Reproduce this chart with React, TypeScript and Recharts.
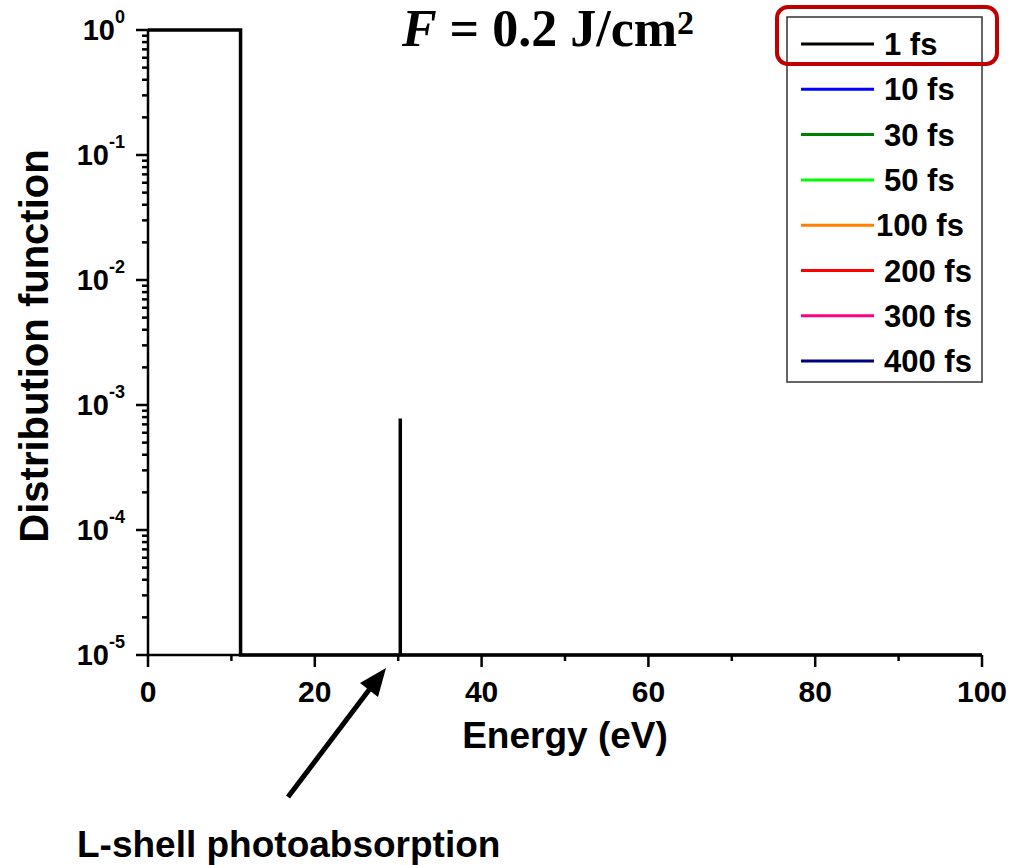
import React from 'react';
import { LineChart, Line, XAxis, YAxis } from 'recharts';

// ---- data ----
const energy1fs = [0, 11.1, 11.1, 30.25, 30.25, 30.25, 100];
const dist1fs = [1, 1, 1e-5, 1e-5, 7.8e-4, 1e-5, 1e-5];

const seriesNames = ['1 fs', '10 fs', '30 fs', '50 fs', '100 fs', '200 fs', '300 fs', '400 fs'];
const seriesColors = ['#000000', '#0000ff', '#008000', '#00ff00', '#ff8000', '#ff0000', '#ff0080', '#000080'];

const xTicks = [0, 10, 20, 30, 40, 50, 60, 70, 80, 90, 100];
const xTickLabels = ['0', '', '20', '', '40', '', '60', '', '80', '', '100'];
const yMajorExponents = [-5, -4, -3, -2, -1, 0];
const yMinorMantissas = [2, 3, 4, 5, 6, 7, 8, 9];

const data = energy1fs.map((x, i) => ({ x, d1: dist1fs[i] }));

const yTicks: number[] = [];
yMajorExponents.forEach((e) => {
  yTicks.push(Math.pow(10, e));
  if (e < 0) yMinorMantissas.forEach((m) => yTicks.push(m * Math.pow(10, e)));
});

const SANS = '"Liberation Sans", Arial, sans-serif';
const SERIF = '"Liberation Serif", "Times New Roman", serif';

const XTick = (props: any) => {
  const { x, y, index } = props;
  const label = xTickLabels[index] ?? '';
  const major = label !== '';
  return (
    <g>
      <line x1={x} y1={y} x2={x} y2={y + (major ? 12 : 6)} stroke="#000" strokeWidth={2.5} />
      {major && (
        <text x={x} y={y + 47} textAnchor="middle" fontFamily={SANS} fontWeight="bold" fontSize={30} fill="#000">
          {label}
        </text>
      )}
    </g>
  );
};

const YTick = (props: any) => {
  const { x, y, payload } = props;
  const v = payload.value as number;
  const lg = Math.log10(v);
  const exp = Math.round(lg);
  const major = Math.abs(lg - exp) < 1e-6;
  return (
    <g>
      <line x1={x} y1={y} x2={x - (major ? 12 : 6)} y2={y} stroke="#000" strokeWidth={2.5} />
      {major && (
        <text x={x - 23} y={y + 10} textAnchor="end" fontFamily={SANS} fontWeight="bold" fontSize={29} fill="#000">
          <tspan>10</tspan>
          <tspan dy={-17} fontSize={18}>{String(exp)}</tspan>
        </text>
      )}
    </g>
  );
};

const LegendBox = () => (
  <svg width={197} height={367} style={{ display: 'block' }}>
    <rect x={1} y={1} width={195} height={365} fill="#fff" stroke="#333" strokeWidth={1.5} />
    {seriesNames.map((name, i) => {
      const cy = 28 + i * 45.3;
      return (
        <g key={name}>
          <line x1={15} y1={cy} x2={88} y2={cy} stroke={seriesColors[i]} strokeWidth={3} />
          <text x={name === '100 fs' ? 90 : 98} y={cy + 11} fontFamily={SANS} fontWeight="bold" fontSize={31} fill="#000">
            {name}
          </text>
        </g>
      );
    })}
  </svg>
);

export default function App() {
  return (
    <div style={{ position: 'absolute', left: 0, top: 0, width: 1013, height: 865, background: '#fff' }}>
      <LineChart width={1013} height={865} data={data} margin={{ top: 30, right: 31, bottom: 0, left: 0 }}>
        <XAxis
          dataKey="x"
          type="number"
          domain={[0, 100]}
          ticks={xTicks}
          interval={0}
          height={210}
          tickSize={0}
          tickMargin={0}
          tickLine={false}
          axisLine={{ stroke: '#000', strokeWidth: 2.5 }}
          tick={<XTick />}
        />
        <YAxis
          type="number"
          scale="log"
          domain={[1e-5, 1]}
          ticks={yTicks}
          interval={0}
          width={148}
          tickSize={0}
          tickMargin={0}
          tickLine={false}
          axisLine={{ stroke: '#000', strokeWidth: 2.5 }}
          tick={<YTick />}
        />
        <Line
          dataKey="d1"
          name={seriesNames[0]}
          type="linear"
          stroke={seriesColors[0]}
          strokeWidth={3.5}
          dot={false}
          activeDot={false}
          isAnimationActive={false}
        />
      </LineChart>
      <div style={{ position: 'absolute', left: 786, top: 16 }}>
        <LegendBox />
      </div>
      <svg
        width={1013}
        height={865}
        style={{ position: 'absolute', left: 0, top: 0, pointerEvents: 'none' }}
      >
        <text x={548} y={46} textAnchor="middle" fontFamily={SERIF} fontWeight="bold" fontSize={52} fill="#000">
          <tspan fontStyle="italic">F</tspan>
          <tspan> = 0.2 J/cm</tspan>
          <tspan dy={-12} fontSize={34}>2</tspan>
        </text>
        <rect x={777} y={7} width={220} height={57} rx={11} fill="none" stroke="#c00000" strokeWidth={4} />
        <text
          transform="translate(48,346) rotate(-90)"
          textAnchor="middle"
          fontFamily={SANS}
          fontWeight="bold"
          fontSize={40}
          fill="#000"
        >
          Distribution function
        </text>
        <text x={565} y={748} textAnchor="middle" fontFamily={SANS} fontWeight="bold" fontSize={37} fill="#000">
          Energy (eV)
        </text>
        <line x1={288} y1={797} x2={372} y2={686} stroke="#000" strokeWidth={5} />
        <polygon points="386,668 360,683 378,697" fill="#000" />
        <text x={77} y={857} fontFamily={SANS} fontWeight="bold" fontSize={37} fill="#000">
          L-shell photoabsorption
        </text>
      </svg>
    </div>
  );
}
